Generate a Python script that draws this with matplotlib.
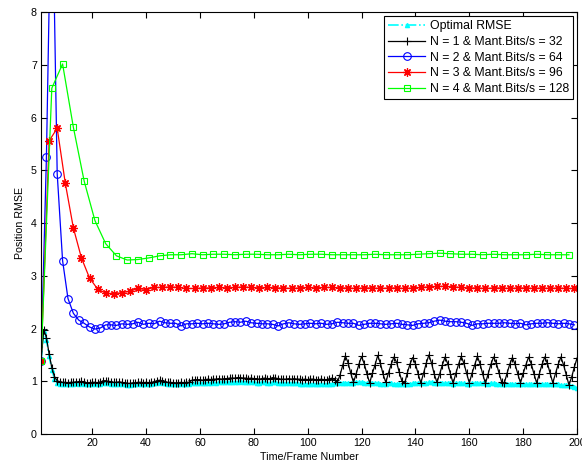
import numpy as np
import matplotlib
matplotlib.use("Agg")
from matplotlib import pyplot as plt

# frame numbers for each series (different sampling per N)
frames_1 = np.arange(1, 201)
frames_2 = np.arange(1, 200, 2)
frames_3 = np.arange(1, 200, 3)
frames_4 = np.arange(1, 198, 4)

optimal_rmse = [
    1.38, 1.95, 1.78, 1.48, 1.22, 1.04, 0.97, 0.95, 0.95, 0.95,
    0.94, 0.95, 0.95, 0.96, 0.95, 0.96, 0.95, 0.94, 0.94, 0.95,
    0.95, 0.94, 0.95, 0.97, 0.97, 0.96, 0.95, 0.95, 0.94, 0.95,
    0.95, 0.94, 0.93, 0.93, 0.94, 0.94, 0.95, 0.95, 0.94, 0.95,
    0.94, 0.95, 0.96, 0.97, 0.98, 0.97, 0.96, 0.95, 0.95, 0.94,
    0.94, 0.94, 0.95, 0.94, 0.95, 0.95, 0.96, 0.97, 0.97, 0.97,
    0.96, 0.97, 0.97, 0.97, 0.98, 0.97, 0.98, 0.98, 0.98, 0.98,
    0.99, 0.99, 0.99, 0.99, 1.00, 0.99, 0.99, 0.98, 0.98, 0.98,
    0.97, 0.97, 0.98, 0.98, 0.97, 0.97, 0.98, 0.98, 0.97, 0.96,
    0.96, 0.96, 0.97, 0.96, 0.96, 0.96, 0.95, 0.95, 0.95, 0.95,
    0.95, 0.95, 0.94, 0.95, 0.95, 0.95, 0.94, 0.95, 0.95, 0.96,
    0.96, 0.96, 0.96, 0.97, 0.97, 0.97, 0.97, 0.98, 0.98, 0.98,
    0.97, 0.97, 0.96, 0.96, 0.97, 0.96, 0.95, 0.95, 0.95, 0.96,
    0.96, 0.95, 0.95, 0.95, 0.94, 0.94, 0.95, 0.95, 0.96, 0.96,
    0.96, 0.97, 0.97, 0.97, 0.98, 0.98, 0.97, 0.97, 0.96, 0.97,
    0.97, 0.96, 0.96, 0.95, 0.96, 0.96, 0.96, 0.96, 0.95, 0.95,
    0.96, 0.96, 0.97, 0.97, 0.96, 0.96, 0.95, 0.96, 0.96, 0.95,
    0.95, 0.95, 0.95, 0.94, 0.94, 0.95, 0.95, 0.95, 0.95, 0.94,
    0.94, 0.95, 0.94, 0.94, 0.95, 0.95, 0.94, 0.94, 0.94, 0.94,
    0.94, 0.94, 0.94, 0.93, 0.93, 0.93, 0.92, 0.91, 0.89, 0.88,
]

rmse_n1 = [
    1.38, 1.98, 1.83, 1.52, 1.26, 1.09, 1.01, 0.99, 0.98, 0.98,
    0.97, 0.98, 0.98, 0.99, 0.98, 1.00, 0.98, 0.97, 0.97, 0.98,
    0.98, 0.97, 0.98, 1.01, 1.01, 1.00, 0.99, 0.98, 0.98, 0.99,
    0.98, 0.97, 0.96, 0.96, 0.97, 0.97, 0.98, 0.98, 0.97, 0.98,
    0.97, 0.98, 0.99, 1.01, 1.02, 1.00, 0.99, 0.98, 0.98, 0.97,
    0.97, 0.97, 0.98, 0.97, 0.98, 0.98, 1.02, 1.03, 1.03, 1.03,
    1.02, 1.03, 1.04, 1.03, 1.04, 1.04, 1.05, 1.04, 1.05, 1.05,
    1.06, 1.06, 1.06, 1.07, 1.07, 1.06, 1.06, 1.05, 1.06, 1.05,
    1.05, 1.04, 1.05, 1.06, 1.05, 1.05, 1.07, 1.06, 1.05, 1.04,
    1.04, 1.04, 1.05, 1.04, 1.05, 1.04, 1.04, 1.03, 1.04, 1.03,
    1.04, 1.04, 1.03, 1.03, 1.04, 1.03, 1.03, 1.04, 1.06, 1.03,
    0.98, 1.12, 1.30, 1.48, 1.35, 1.15, 0.98, 1.14, 1.32, 1.47,
    1.33, 1.14, 0.97, 1.15, 1.31, 1.49, 1.34, 1.13, 0.98, 1.16,
    1.32, 1.46, 1.36, 1.17, 1.00, 0.96, 1.16, 1.33, 1.45, 1.33,
    1.14, 0.97, 1.15, 1.34, 1.50, 1.34, 1.13, 0.98, 1.14, 1.31,
    1.46, 1.33, 1.14, 0.96, 1.15, 1.32, 1.47, 1.34, 1.15, 0.97,
    1.15, 1.31, 1.47, 1.33, 1.13, 0.96, 1.14, 1.32, 1.46, 1.35,
    1.16, 0.99, 0.97, 1.15, 1.32, 1.45, 1.32, 1.14, 0.97, 1.15,
    1.31, 1.46, 1.33, 1.14, 0.97, 1.14, 1.32, 1.46, 1.34, 1.15,
    0.97, 1.15, 1.32, 1.46, 1.31, 1.12, 0.93, 1.08, 1.27, 1.44,
]

rmse_n2 = [
    1.38, 5.25, 11.0, 4.94, 3.29, 2.57, 2.29, 2.16, 2.10, 2.03,
    1.99, 2.01, 2.07, 2.07, 2.06, 2.09, 2.08, 2.09, 2.12, 2.08,
    2.10, 2.09, 2.14, 2.11, 2.10, 2.10, 2.05, 2.09, 2.09, 2.10,
    2.09, 2.10, 2.09, 2.08, 2.09, 2.12, 2.13, 2.12, 2.14, 2.11,
    2.10, 2.09, 2.09, 2.08, 2.05, 2.09, 2.11, 2.09, 2.08, 2.09,
    2.10, 2.09, 2.10, 2.08, 2.09, 2.12, 2.11, 2.10, 2.10, 2.06,
    2.08, 2.10, 2.10, 2.09, 2.08, 2.09, 2.10, 2.08, 2.07, 2.06,
    2.09, 2.10, 2.11, 2.14, 2.16, 2.14, 2.13, 2.13, 2.12, 2.10,
    2.06, 2.09, 2.09, 2.10, 2.10, 2.10, 2.11, 2.10, 2.09, 2.10,
    2.07, 2.09, 2.10, 2.10, 2.11, 2.10, 2.09, 2.10, 2.09, 2.07,
]

rmse_n3 = [
    1.38, 5.56, 5.80, 4.76, 3.91, 3.34, 2.96, 2.75, 2.67, 2.66,
    2.68, 2.71, 2.76, 2.74, 2.78, 2.78, 2.79, 2.78, 2.76, 2.76,
    2.77, 2.77, 2.78, 2.77, 2.78, 2.79, 2.78, 2.77, 2.78, 2.77,
    2.77, 2.76, 2.77, 2.78, 2.77, 2.78, 2.78, 2.77, 2.77, 2.76,
    2.77, 2.77, 2.76, 2.77, 2.77, 2.76, 2.77, 2.78, 2.79, 2.80,
    2.80, 2.79, 2.78, 2.77, 2.77, 2.76, 2.77, 2.77, 2.76, 2.77,
    2.77, 2.76, 2.77, 2.76, 2.77, 2.76, 2.76,
]

rmse_n4 = [
    1.38, 6.56, 7.02, 5.82, 4.80, 4.05, 3.61, 3.38, 3.30, 3.31,
    3.34, 3.38, 3.40, 3.40, 3.42, 3.40, 3.41, 3.41, 3.40, 3.41,
    3.41, 3.40, 3.40, 3.41, 3.40, 3.41, 3.41, 3.40, 3.40, 3.40,
    3.40, 3.41, 3.40, 3.40, 3.40, 3.41, 3.42, 3.43, 3.42, 3.41,
    3.41, 3.40, 3.41, 3.40, 3.40, 3.40, 3.41, 3.40, 3.40, 3.40,
]

plt.rcParams['font.family'] = ['Liberation Sans', 'DejaVu Sans']

fig = plt.figure(figsize=(5.82, 4.67), dpi=100)
ax = fig.add_axes([0.0705, 0.0707, 0.921, 0.903])

lw = 0.9
ax.plot(frames_1, optimal_rmse, color=(0, 1, 1), linestyle='-.', marker='^',
        markersize=3, linewidth=1.2, label='Optimal RMSE')
ax.plot(frames_1, rmse_n1, color='k', marker='+', markersize=5.5,
        markeredgewidth=0.8, linewidth=lw, label='N = 1 & Mant.Bits/s = 32')
ax.plot(frames_2, rmse_n2, color=(0, 0, 1), marker='o', markersize=5.5,
        markerfacecolor='none', markeredgewidth=0.8, linewidth=lw,
        label='N = 2 & Mant.Bits/s = 64')
ax.plot(frames_3, rmse_n3, color=(1, 0, 0), marker=(8, 2, 0), markersize=6,
        markeredgewidth=0.9, linewidth=lw, label='N = 3 & Mant.Bits/s = 96')
ax.plot(frames_4, rmse_n4, color=(0, 1, 0), marker='s', markersize=5,
        markerfacecolor='none', markeredgewidth=0.8, linewidth=lw,
        label='N = 4 & Mant.Bits/s = 128')

ax.set_xlim(1, 200)
ax.set_ylim(0, 8)
ax.set_xticks(np.arange(20, 201, 20))
ax.set_yticks(np.arange(0, 9, 1))
ax.tick_params(direction='in', top=True, right=True, labelsize=7.7,
               length=4, width=0.8, pad=3)
for s in ax.spines.values():
    s.set_linewidth(0.8)

ax.set_xlabel('Time/Frame Number', fontsize=7.7, labelpad=3)
ax.set_ylabel('Position RMSE', fontsize=7.7, labelpad=4)

leg = ax.legend(loc='upper right', fontsize=8.8, fancybox=False,
                edgecolor='k', framealpha=1, handlelength=3.0,
                borderaxespad=0.3, labelspacing=0.3, borderpad=0.35,
                handletextpad=0.4)
leg.get_frame().set_linewidth(0.8)

fig.savefig('out.png', dpi=100)
